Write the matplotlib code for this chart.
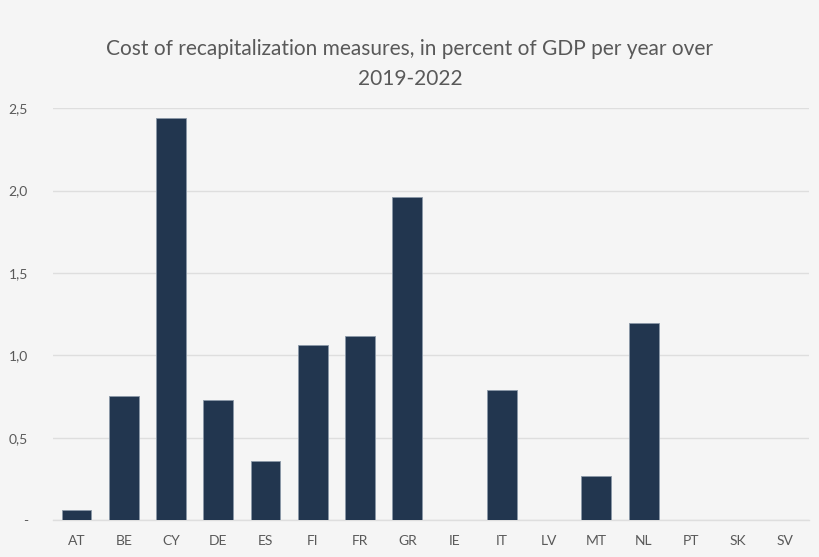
import numpy as np
import matplotlib
matplotlib.use('Agg')
import matplotlib.pyplot as plt
from matplotlib.ticker import FuncFormatter

countries = ['AT', 'BE', 'CY', 'DE', 'ES', 'FI', 'FR', 'GR',
             'IE', 'IT', 'LV', 'MT', 'NL', 'PT', 'SK', 'SV']
cost = [0.06, 0.75, 2.44, 0.73, 0.36, 1.06, 1.12, 1.96,
        0.0, 0.79, 0.0, 0.27, 1.195, 0.0, 0.0, 0.0]
yticks = [0, 0.5, 1.0, 1.5, 2.0, 2.5]

bg = '#f5f5f5'
bar_color = '#22364f'
text_color = '#595959'

plt.rcParams['font.family'] = ['Lato', 'DejaVu Sans']

fig = plt.figure(figsize=(8.2, 5.57), dpi=100, facecolor=bg)
ax = fig.add_axes([0.0646, 0.0664, 0.922, 0.7392], facecolor=bg)

x = np.arange(len(countries))
ax.bar(x, cost, width=0.63, color=bar_color, edgecolor='#8a98a8', linewidth=0.6, zorder=3)

ax.set_xlim(-0.5, len(countries) - 0.5)
ax.set_ylim(0, 2.5)
ax.set_xticks(x)
ax.set_xticklabels(countries)
ax.set_yticks(yticks)

def fmt(v, pos):
    if v == 0:
        return '-'
    return ('%.1f' % v).replace('.', ',')

ax.yaxis.set_major_formatter(FuncFormatter(fmt))
ax.grid(axis='y', color='#dedede', linewidth=1, zorder=0)
for s in ['top', 'right', 'left']:
    ax.spines[s].set_visible(False)
ax.spines['bottom'].set_color('#dedede')
ax.spines['bottom'].set_linewidth(1)
ax.tick_params(axis='both', length=0, labelsize=10, labelcolor=text_color)
ax.tick_params(axis='y', pad=18)
ax.tick_params(axis='x', pad=11)

fig.text(0.5, 0.885, 'Cost of recapitalization measures, in percent of GDP per year over\n2019-2022',
         ha='center', va='center', fontsize=15, color=text_color, linespacing=1.6)

fig.savefig('out.png', dpi=100, facecolor=bg)
